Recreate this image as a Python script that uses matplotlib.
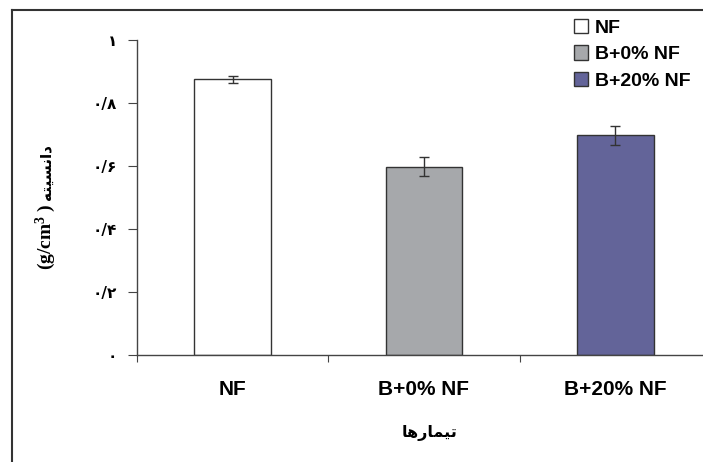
import matplotlib
matplotlib.use("Agg")
import matplotlib.pyplot as plt
from matplotlib.lines import Line2D
from matplotlib.patches import Patch

# data
categories = ["NF", "B+0% NF", "B+20% NF"]
density = [0.875, 0.597, 0.697]
density_err = [0.01, 0.03, 0.03]
bar_colors = ["#ffffff", "#a6a8ab", "#636499"]

yticks = [0, 0.2, 0.4, 0.6, 0.8, 1.0]
ytick_labels = ["\u06f0", "\u06f0/\u06f2", "\u06f0/\u06f4", "\u06f0/\u06f6", "\u06f0/\u06f8", "\u06f1"]

# Persian words in presentation forms, visual (left to right) order
xlabel_fa = "\ufe8e\ufeeb\ufead\ufe8e\ufee4\ufef4\ufe97"      # tymarha
ylabel_fa = "\ufeea\ufe98\ufef4\ufeb4\ufee7\ufe8d\ufea9"      # danesiteh
ylabel_unit = "(g/cm$^{3}$ )"

EDGE = "#333333"

plt.rcParams["mathtext.fontset"] = "custom"
plt.rcParams["mathtext.rm"] = "Liberation Serif:bold"
plt.rcParams["mathtext.it"] = "Liberation Serif:bold"
plt.rcParams["mathtext.bf"] = "Liberation Serif:bold"

fig = plt.figure(figsize=(7.03, 4.62), dpi=100)
ax = fig.add_axes([137 / 703, 107 / 462, 574 / 703, 315 / 462])

x = list(range(len(categories)))
ax.bar(x, density, width=0.40, color=bar_colors, edgecolor=EDGE, linewidth=1.0,
       yerr=density_err, capsize=3.5,
       error_kw=dict(ecolor=EDGE, elinewidth=1.0, capthick=1.0))

ax.set_xlim(-0.5, 2.5)
ax.set_ylim(0, 1.0)

ax.spines["top"].set_visible(False)
ax.spines["right"].set_visible(False)
for s in ("left", "bottom"):
    ax.spines[s].set_color("#444444")
    ax.spines[s].set_linewidth(1.0)

ax.set_yticks(yticks)
ax.set_yticklabels(ytick_labels, fontsize=11, fontweight="bold", family="DejaVu Sans")
ax.tick_params(axis="y", direction="out", length=6.5, width=0.8, color="#444444", pad=8)

# category ticks sit between bars, labels at bar centres
ax.set_xticks([-0.5, 0.5, 1.5, 2.5])
ax.set_xticklabels([])
ax.set_xticks(x, minor=True)
ax.set_xticklabels(categories, minor=True, fontsize=15, fontweight="bold",
                   family="Liberation Sans")
ax.tick_params(axis="x", which="major", direction="out", length=5, width=0.8, color="#444444")
ax.tick_params(axis="x", which="minor", length=0, pad=18)

fig.text(429 / 703, 1 - 433 / 462, xlabel_fa, ha="center", va="center",
         fontsize=11.5, fontweight="bold", family="DejaVu Sans")

# y label in two pieces: unit (serif, big superscript) below, Persian word above
fig.text(46 / 703, 1 - 203 / 462, ylabel_unit, ha="center", va="top",
         rotation=90, fontsize=14, fontweight="bold", family="Liberation Serif")
fig.text(46 / 703, 1 - 200 / 462, ylabel_fa, ha="center", va="bottom",
         rotation=90, fontsize=11, fontweight="bold", family="DejaVu Sans")

handles = [Patch(facecolor=c, edgecolor=EDGE, linewidth=1.0) for c in bar_colors]
fig.legend(handles, categories, loc="upper left", bbox_to_anchor=(566 / 703, 1 - 11 / 462),
           frameon=False, handlelength=0.75, handleheight=0.75, handletextpad=0.35,
           labelspacing=0.45, borderaxespad=0,
           prop=dict(family="Liberation Sans", weight="bold", size=14))

# outer frame of the original figure (left and top edges only are visible)
fig.add_artist(Line2D([12 / 703, 12 / 703], [0, 1 - 10 / 462], color="#333333", lw=1.5))
fig.add_artist(Line2D([12 / 703, 1], [1 - 10 / 462, 1 - 10 / 462], color="#333333", lw=1.5))

fig.savefig("out.png", dpi=100)
